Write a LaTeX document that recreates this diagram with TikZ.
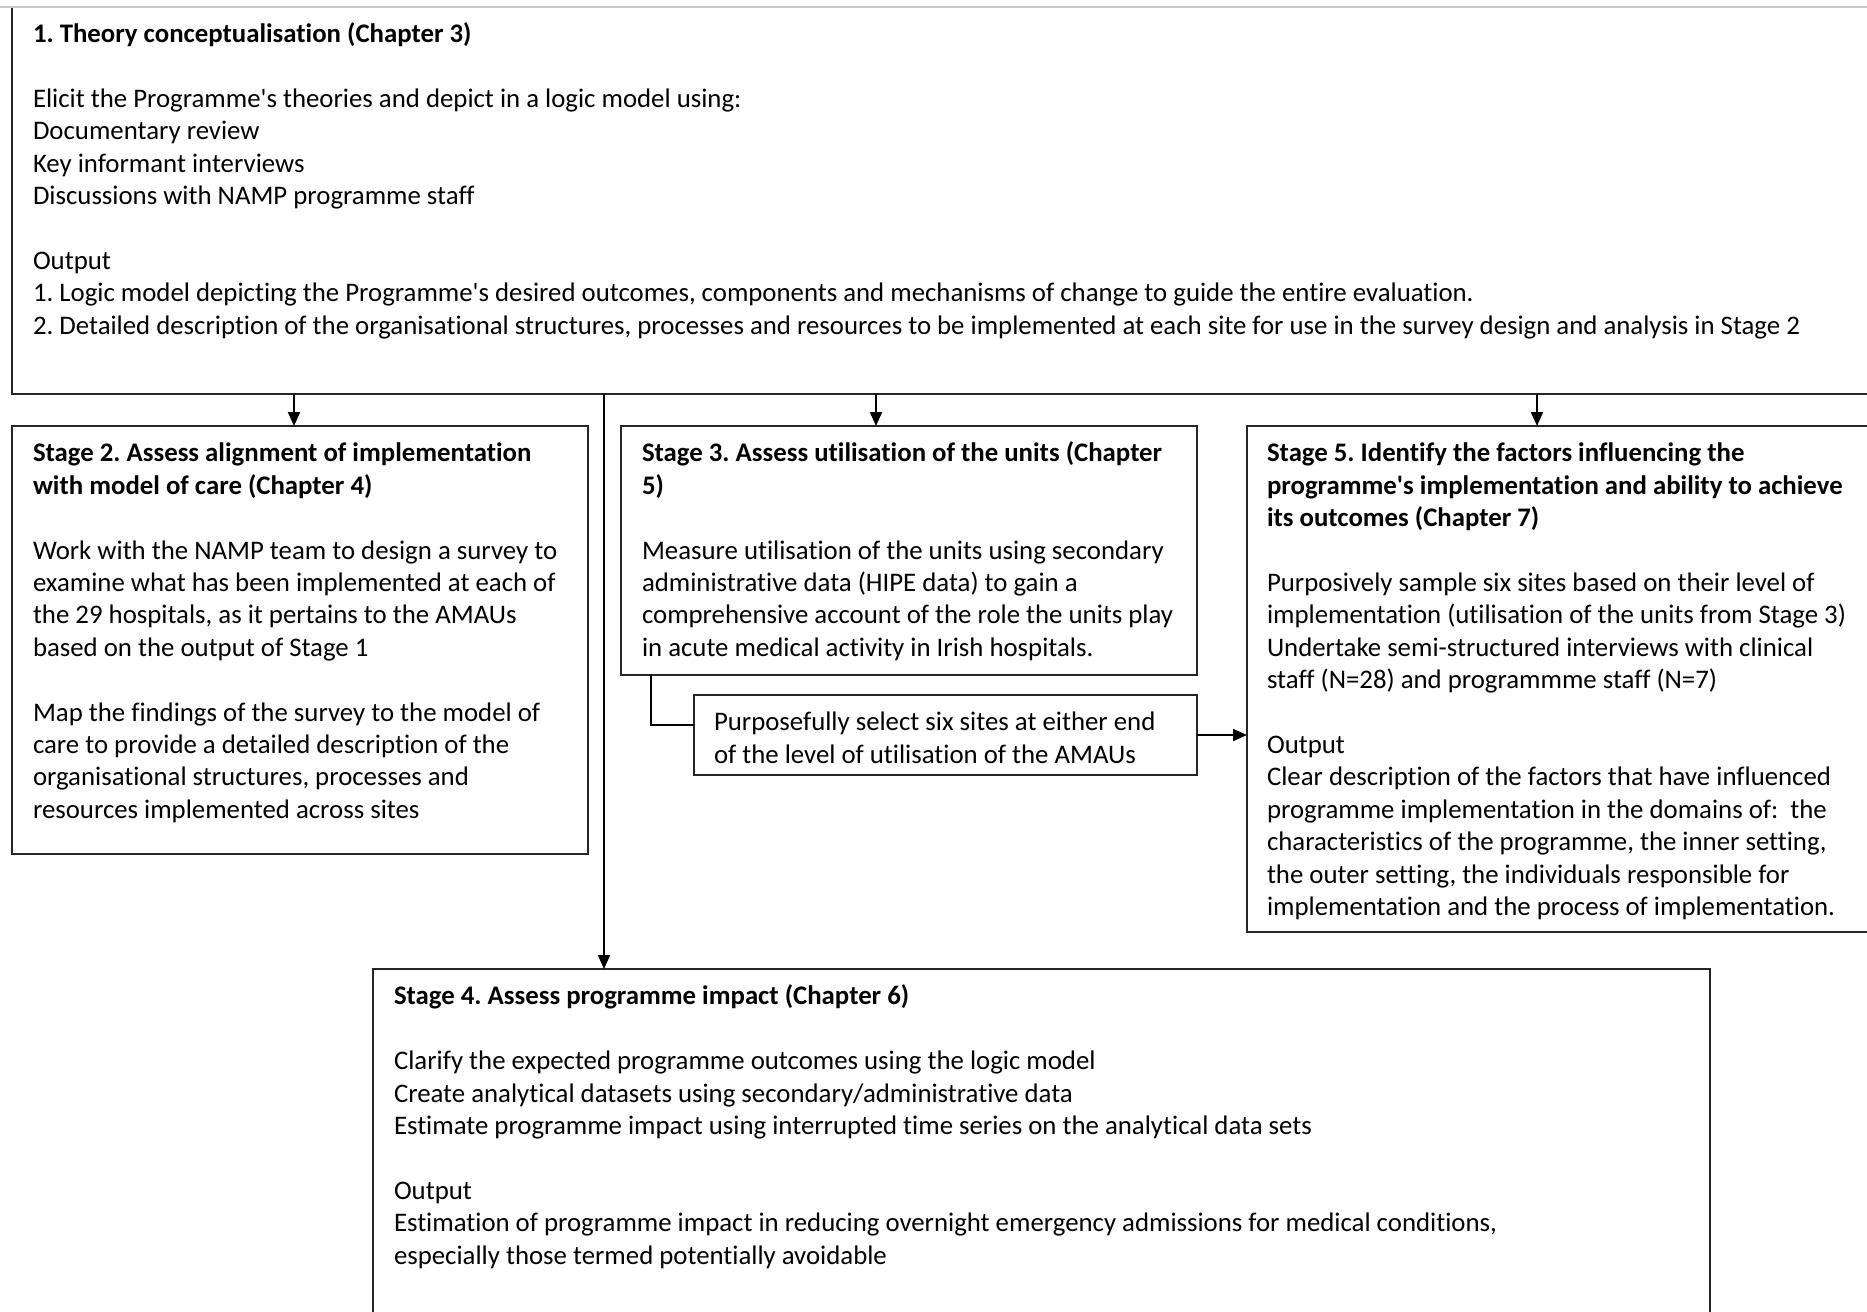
\documentclass[tikz,border=0pt]{standalone}
\usepackage{fontspec}
\setmainfont{Carlito}[Ligatures={NoCommon,TeXOff}]
\usetikzlibrary{arrows.meta}
\frenchspacing
\begin{document}
\begin{tikzpicture}[x=0.5pt,y=-0.5pt,
  box/.style={draw=black!85, line width=1pt, anchor=north west, inner sep=0pt, outer sep=0pt},
  txt/.style={anchor=north west, inner sep=0pt, outer sep=0pt, align=left, font=\fontsize{13.4}{16.2}\selectfont\frenchspacing},
  arr/.style={-{Triangle[length=7pt,width=6pt]}, line width=1pt, draw=black},
  conn/.style={line width=1pt, draw=black}]
\useasboundingbox (0,0) rectangle (1867,1311);
\clip (0,0) rectangle (1867,1311);
\fill[white] (0,0) rectangle (1867,1311);
% boxes
\node[box, minimum width=944pt, minimum height=193.5pt] (top) at (12,7) {};
\node[box, minimum width=288pt, minimum height=214pt] (s2) at (12,426) {};
\node[box, minimum width=288pt, minimum height=124.5pt] (s3) at (621,426) {};
\node[box, minimum width=251.5pt, minimum height=40pt] (sm) at (694,695) {};
\node[box, minimum width=326.5pt, minimum height=253pt] (s5) at (1247,426) {};
\node[box, minimum width=668.5pt, minimum height=185.5pt] (s4) at (373,969) {};
\draw[gray!45, line width=1.2pt] (0,7) -- (1867,7);
% texts
\node[txt] (t1) at (33,20) {\strut\textbf{1. Theory conceptualisation (Chapter 3)}\\[16.2pt]
Elicit the Programme's theories and depict in a logic model using:\\
Documentary review\\
Key informant interviews\\
Discussions with NAMP programme staff\\[16.2pt]
Output\\
1. Logic model depicting the Programme's desired outcomes, components and mechanisms of change to guide the entire evaluation.\\
2. Detailed description of the organisational structures, processes and resources to be implemented at each site for use in the survey design and analysis in Stage 2};
\node[txt] (t2) at (33,439.3) {\strut\textbf{Stage 2. Assess alignment of implementation}\\
\textbf{with model of care (Chapter 4)}\\[16.2pt]
Work with the NAMP team to design a survey to\\
examine what has been implemented at each of\\
the 29 hospitals, as it pertains to the AMAUs\\
based on the output of Stage 1\\[16.2pt]
Map the findings of the survey to the model of\\
care to provide a detailed description of the\\
organisational structures, processes and\\
resources implemented across sites};
\node[txt] (t3) at (642,439.3) {\strut\textbf{Stage 3. Assess utilisation of the units (Chapter}\\
\textbf{5)}\\[16.2pt]
Measure utilisation of the units using secondary\\
administrative data (HIPE data) to gain a\\
comprehensive account of the role the units play\\
in acute medical activity in Irish hospitals.};
\node[txt] (tsm) at (714,708.3) {\strut Purposefully select six sites at either end\\
of the level of utilisation of the AMAUs};
\node[txt] (t5) at (1267,439.3) {\strut\textbf{Stage 5. Identify the factors influencing the}\\
\textbf{programme's implementation and ability to achieve}\\
\textbf{its outcomes (Chapter 7)}\\[16.2pt]
Purposively sample six sites based on their level of\\
implementation (utilisation of the units from Stage 3)\\
Undertake semi-structured interviews with clinical\\
staff (N=28) and programmme staff (N=7)\\[16.2pt]
Output\\
Clear description of the factors that have influenced\\
programme implementation in the domains of:\ \ the\\
characteristics of the programme, the inner setting,\\
the outer setting, the individuals responsible for\\
implementation and the process of implementation.};
\node[txt] (t4) at (394,982.3) {\strut\textbf{Stage 4. Assess programme impact (Chapter 6)}\\[16.2pt]
Clarify the expected programme outcomes using the logic model\\
Create analytical datasets using secondary/administrative data\\
Estimate programme impact using interrupted time series on the analytical data sets\\[16.2pt]
Output\\
Estimation of programme impact in reducing overnight emergency admissions for medical conditions,\\
especially those termed potentially avoidable};
% connectors
\coordinate (xa) at (294,0);
\coordinate (xb) at (604,0);
\coordinate (xc) at (876,0);
\coordinate (xd) at (1537,0);
\coordinate (ea) at (651,725);
\draw[arr] (top.south -| xa) -- (s2.north -| xa);
\draw[arr] (top.south -| xb) -- (s4.north -| xb);
\draw[arr] (top.south -| xc) -- (s3.north -| xc);
\draw[arr] (top.south -| xd) -- (s5.north -| xd);
\draw[conn] (s3.south -| ea) |- (sm.west |- ea);
\draw[arr] (sm.east) -- (sm.east -| s5.west);
\end{tikzpicture}
\end{document}
